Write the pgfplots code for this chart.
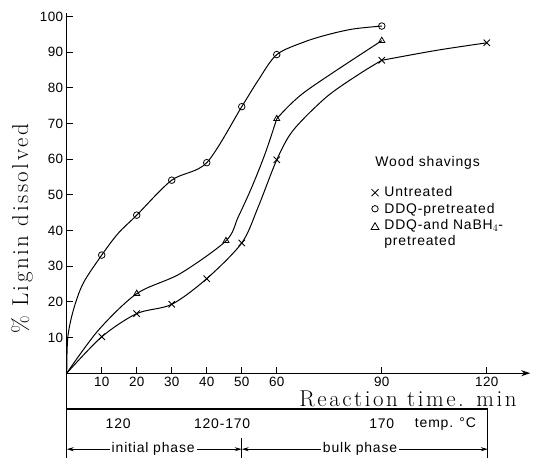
\documentclass[border=0pt]{standalone}
\usepackage{fontspec}
\setsansfont{Liberation Sans}
\newfontfamily\labelfont[LetterSpace=11]{Latin Modern Roman}
\newfontfamily\letterfont[LetterSpace=6]{Liberation Sans}
\newfontfamily\tickfont[LetterSpace=3]{Liberation Sans}
\usepackage{pgfplots}
\pgfplotsset{compat=1.18}
\usetikzlibrary{arrows.meta}

\newcommand{\smallsans}{\letterfont\fontsize{14}{16}\selectfont}

\begin{document}
\begin{tikzpicture}
\begin{axis}[
  scale only axis, width=463.4bp, height=445.2bp,
  xmin=0, xmax=132.4, ymin=-23.8, ymax=101,
  axis x line=middle, axis y line=middle,
  axis line style={line width=1.3pt},
  x axis line style={-{Stealth[length=9pt,width=6pt]}},
  y axis line style={-},
  xtick={10,20,30,40,50,60,90,120}, ytick={10,20,...,100},
  tick align=inside, major tick length=6bp,
  tick style={line width=0.9pt, black},
  ticklabel style={font=\tickfont\fontsize{13.5}{15}\selectfont},
  /pgf/number format/assume math mode=true,
  clip=false,
  legend style={at={(axis cs:86.9,52.7)}, anchor=north west, draw=none, fill=none,
    font=\smallsans, row sep=1.5bp, column sep=4bp, inner sep=0pt,
    nodes={inner sep=1.5pt},
    cells={anchor=west, align=left}},
]
% bounding box of the whole figure
\path (axis cs:-19.06,-23.8) rectangle (axis cs:133.2,104.6);

% Untreated (bend at 90 min)
\addplot[smooth, tension=0.5, line width=1bp, forget plot] coordinates {
  (0,0) (10,10.2) (20,16.7) (30,19.3) (40,26.5) (50,36.5) (54.7,46.6) (60,59.8)
  (64.7,68.1) (74.3,77.5) (83.8,84) (90,87.7)};
\addplot[smooth, tension=0.5, line width=1bp, forget plot] coordinates {
  (90,87.7) (105.7,90.5) (120,92.6)};
\addplot[only marks, mark=x, mark size=4.5bp, line width=0.9pt, forget plot] coordinates {
  (10,10.2) (20,16.7) (30,19.3) (40,26.5) (50,36.5) (60,59.8) (90,87.7) (120,92.6)};

% DDQ-pretreated
\addplot[smooth, tension=0.5, line width=1bp, forget plot] coordinates {
  (0,0) (0.3,10) (1.9,17.7) (4.7,25.2) (10,33.1) (14.7,39.2) (20,44.3) (30,54.1)
  (40,59) (50,74.7) (54.7,82.1) (60,89.3) (68,92.9) (75,95) (82,96.5) (90,97.3)};
\addplot[only marks, mark=o, mark size=3.3bp, fill=white, line width=0.8pt, forget plot] coordinates {
  (10,33.1) (20,44.3) (30,54.1) (40,59) (50,74.7) (60,89.3) (90,97.3)};

% DDQ- and NaBH4-pretreated (bend at 60 min)
\addplot[smooth, tension=0.5, line width=1bp, forget plot] coordinates {
  (0,0) (9,12) (20,22.3) (32.4,27.9) (45.5,37.1) (49,43.8) (52.9,52.2) (56.7,61.6) (60,71.3)};
\addplot[smooth, tension=0.5, line width=1bp, forget plot] coordinates {
  (60,71.3) (68.1,78.9) (90,93.2)};
\addplot[only marks, mark=triangle, mark size=3.5bp, fill=white, line width=0.8pt, forget plot] coordinates {
  (20,22.3) (45.5,37.1) (60,71.3) (90,93.2)};

% legend
\addlegendimage{legend image code/.code={\draw[line width=0.8pt, only marks, mark=x, mark size=5bp] plot coordinates {(0.12cm,0cm)};}}
\addlegendentry{Untreated}
\addlegendimage{legend image code/.code={\draw[line width=0.8pt, only marks, mark=o, mark size=3.2bp] plot coordinates {(0.12cm,0cm)};}}
\addlegendentry{DDQ-pretreated}
\addlegendimage{legend image code/.code={\draw[line width=0.8pt, only marks, mark=triangle, mark size=4.5bp] plot coordinates {(0.12cm,0.2cm)};}}
\addlegendentry{DDQ-and NaBH$_4$-\\pretreated}
\node[anchor=west, font=\smallsans] at (axis cs:87.2,58.9) {Wood shavings};

% axis labels
\node[rotate=90, font=\labelfont\fontsize{23}{26}\selectfont] at (axis cs:-12.8,40.4) {\% Lignin dissolved};
\node[anchor=base, font=\labelfont\fontsize{23}{26}\selectfont] at (axis cs:97.5,-9.4) {Reaction time. min};

% temperature row
\draw[line width=2.2pt] (axis cs:0,-10.1) -- (axis cs:120.3,-10.1);
\draw[line width=1pt] (axis cs:120.3,-10.1) -- (axis cs:120.3,-23.8);
\node[font=\smallsans] at (axis cs:14.7,-14.2) {120};
\node[font=\smallsans] at (axis cs:44.4,-14.2) {120-170};
\node[font=\smallsans] at (axis cs:90,-14.2) {170};
\node[font=\smallsans] at (axis cs:108.2,-14.2) {temp. °C};

% phase row
\draw[line width=0.8pt, {Stealth[length=7pt,width=4pt]}-{Stealth[length=7pt,width=4pt]}] (axis cs:0,-21.3) -- (axis cs:50,-21.3);
\draw[line width=0.8pt, {Stealth[length=7pt,width=4pt]}-{Stealth[length=7pt,width=4pt]}] (axis cs:50,-21.3) -- (axis cs:120.3,-21.3);
\draw[line width=0.9pt] (axis cs:50,-18.3) -- (axis cs:50,-23.8);
\node[font=\smallsans, fill=white, inner sep=2pt] at (axis cs:24.7,-21.3) {initial phase};
\node[font=\smallsans, fill=white, inner sep=2pt] at (axis cs:83.8,-21.3) {bulk phase};
\end{axis}
\end{tikzpicture}
\end{document}
